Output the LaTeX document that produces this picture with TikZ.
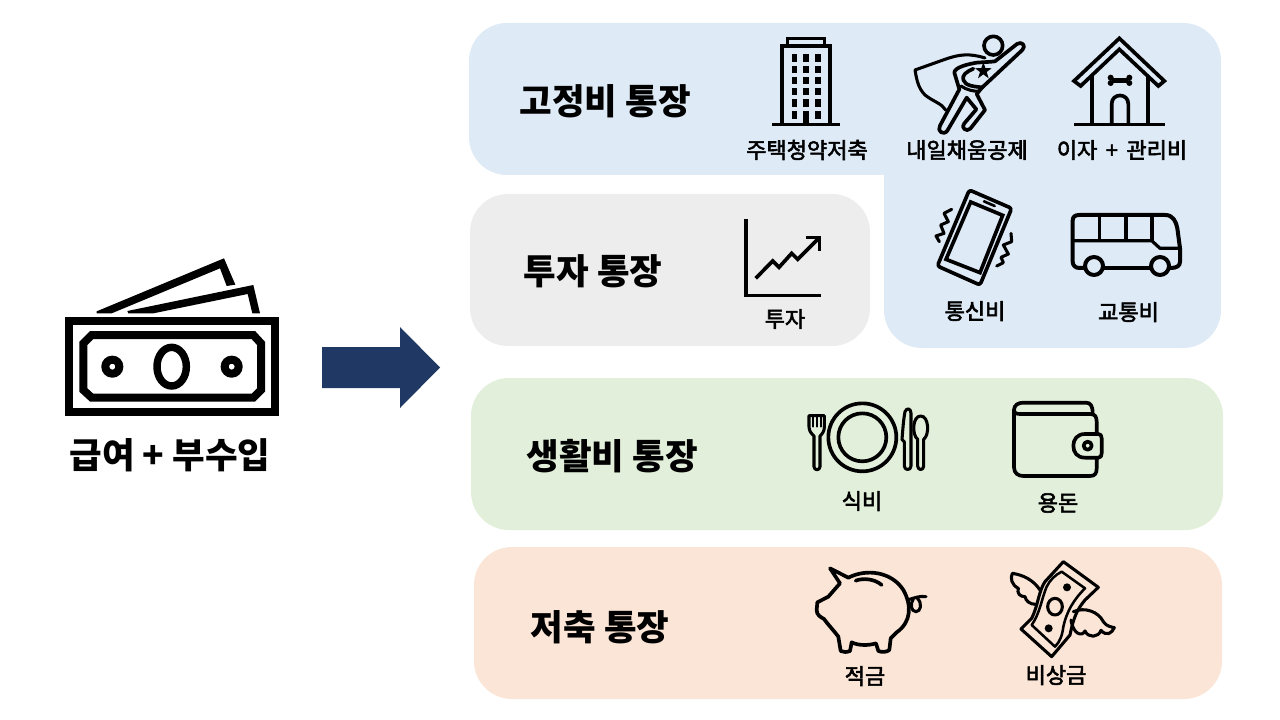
\documentclass[tikz,border=0pt]{standalone}
\usepackage{fontspec}
\setmainfont{Noto Sans CJK KR}
\newfontfamily\lblfont[FakeBold=2.6]{Noto Sans CJK KR}
\tikzset{
  x=0.75pt,y=-0.75pt,
  panel/.style={rounded corners=28.5pt,inner sep=0pt,outer sep=0pt,draw=none},
  hdg/.style={font=\fontsize{26.6}{30}\selectfont\bfseries,inner sep=0pt,text=black},
  lbl/.style={font=\fontsize{16.5}{20}\lblfont,inner sep=0pt,text=black},
  icon/.style={draw=black,line width=2.75pt,line join=round,line cap=round,fill=none},
  thinicon/.style={draw=black,line width=2.3pt,line join=round,line cap=round,fill=none},
  z1/.style={shift={(#1)},scale=1/3}
}
\definecolor{pblue}{HTML}{DEEAF6}
\definecolor{pgray}{HTML}{EDEDED}
\definecolor{pgreen}{HTML}{E2EFDA}
\definecolor{porange}{HTML}{FBE5D6}
\definecolor{navy}{HTML}{1F3864}
\begin{document}
\begin{tikzpicture}
\useasboundingbox (0,0) rectangle (1280,720);
% panels
\fill[pblue] (884,175) -- (507,175) .. controls (486,175) and (469,158) .. (469,137) -- (469,61) .. controls (469,40) and (486,23) .. (507,23) -- (1183,23) .. controls (1204,23) and (1221,40) .. (1221,61) -- (1221,310) .. controls (1221,331) and (1204,348) .. (1183,348) -- (922,348) .. controls (901,348) and (884,331) .. (884,310) -- cycle;
\node[panel,fill=pgray,minimum width=300pt,minimum height=114pt] (pg) at (670,270) {};
\node[panel,fill=pgreen,minimum width=564pt,minimum height=114pt] (pr) at (847,454) {};
\node[panel,fill=porange,minimum width=561pt,minimum height=114pt] (po) at (848,623) {};
% arrow
\fill[navy] (322,347) -- (400,347) -- (400,327) -- (440,367.5) -- (400,408) -- (400,388) -- (322,388) -- cycle;
% headings
\node[hdg] (h1) at (605,101) {고정비 통장};
\node[hdg] (h2) at (593,271) {투자 통장};
\node[hdg] (h3) at (612,456) {생활비 통장};
\node[hdg] (h4) at (600,627) {저축 통장};
\node[hdg] (h5) at (170,455) {급여 + 부수입};
% captions
\node[lbl] (c1) at (807,150) {주택청약저축};
\node[lbl] (c2) at (967,150) {내일채움공제};
\node[lbl] (c3) at (1122,150) {이자\hspace{0.16em} + \hspace{0.16em}관리비};
\node[lbl] (c4) at (975,311) {통신비};
\node[lbl] (c5) at (1128.5,312) {교통비};
\node[lbl] (c6) at (785,319) {투자};
\node[lbl] (c7) at (862,501) {식비};
\node[lbl] (c8) at (1058,503) {용돈};
\node[lbl] (c9) at (865,676) {적금};
\node[lbl] (c10) at (1056,675) {비상금};
% money
\begin{scope}[z1={50,250}]
\draw[line width=6pt,line join=miter] (56,212) rectangle (676,486);
\draw[line width=6pt,line join=miter] (125,255) -- (610,255) -- (633,280) -- (633,420) -- (610,443) -- (125,443) -- (100,420) -- (100,280) -- cycle;
\draw[line width=5.6pt] (365,350) ellipse (44 and 58);
\draw[line width=6pt] (187,350) circle (21);
\draw[line width=6pt] (545,350) circle (21);
\fill (140,184) -- (522,25) -- (556,104) -- (530,108) -- (510,55) -- (185,190) -- (140,190) -- cycle;
\fill (232,183) -- (610,105) -- (630,190) -- (607,190) -- (593,132) -- (310,190) -- (235,190) -- cycle;
\end{scope}
% building
\begin{scope}[z1={730,20}]
\draw[icon,line cap=butt,line join=miter] (156,312) -- (156,78) -- (300,78) -- (300,312);
\draw[icon,line cap=butt,line join=miter,line width=2.2pt] (172,76) -- (172,56) -- (284,56) -- (284,76);
\draw[icon,line cap=butt] (127,314) -- (329,314);
\foreach \yy/\hh in {102/23,137/21,170/22,205/21,238/22,272/24}{
  \fill (185,\yy) rectangle ++(16,\hh);
  \fill (255,\yy) rectangle ++(17,\hh);
}
\foreach \yy/\hh in {102/23,137/21,170/22,205/21,238/22,272/40}{
  \fill (220,\yy) rectangle ++(17,\hh);
}
\end{scope}
% hero
\begin{scope}[z1={905,30}]
\draw[icon] (265,47) circle (28);
\draw[icon] (270,94) -- (336,42) .. controls (350,32) and (365,48) .. (352,60) -- (232,172) -- (215,192) -- (240,240) -- (196,296) .. controls (185,308) and (165,292) .. (178,280) -- (214,238) -- (185,203) -- (127,302) .. controls (115,318) and (95,303) .. (105,287) -- (163,178) -- (148,128) .. controls (148,112) and (190,102) .. (215,98) .. controls (240,96) and (255,96) .. (270,94);
\draw[icon] (205,116) .. controls (185,125) and (170,135) .. (175,150) .. controls (180,168) and (210,170) .. (232,172);
\draw[thinicon] (168,168) .. controls (185,180) and (205,184) .. (222,184);
\draw[thinicon] (240,84) .. controls (195,70) and (165,72) .. (120,88) -- (30,120) .. controls (35,150) and (40,175) .. (60,195) .. controls (85,215) and (110,220) .. (122,240);
\fill (235,96) -- (241,114) -- (260,115) -- (245,126) -- (251,145) -- (235,133) -- (219,145) -- (225,126) -- (210,115) -- (229,114) -- cycle;
\end{scope}
% dog house
\begin{scope}[z1={730,20}]
\draw[icon,line join=miter] (1032,183) -- (1168,55) -- (1303,183) -- (1285,198) -- (1168,88) -- (1052,198) -- cycle;
\draw[icon,line cap=butt] (1086,168) -- (1086,312);
\draw[icon,line cap=butt] (1253,168) -- (1253,312);
\draw[icon,line cap=butt] (1033,314) -- (1304,314);
\draw[icon,line cap=butt] (1145,312) -- (1145,252) .. controls (1145,218) and (1195,218) .. (1195,252) -- (1195,312);
\draw[icon,line cap=butt,line width=3.4pt] (1145,181) -- (1195,181);
\foreach \px/\py in {1142/173,1142/189,1198/173,1198/189}{\fill (\px,\py) circle (9);}
\end{scope}
% phone
\begin{scope}[z1={900,180}]
\draw[icon,rounded corners=2pt] (208,30) -- (335,85) -- (240,315) -- (112,258) -- cycle;
\draw[icon,line join=miter] (212,66) -- (308,106) -- (240,278) -- (138,238) -- cycle;
\draw[icon,line width=2pt] (252,64) -- (284,78);
\draw[thinicon] (155,88) -- (132,100) -- (145,125) -- (122,135) -- (132,160) -- (108,168) -- (118,185);
\draw[thinicon] (333,160) -- (335,185) -- (310,195) -- (325,222) -- (303,232) -- (310,248) -- (290,258);
\end{scope}
% bus
\begin{scope}[z1={900,180}]
\draw[icon,line width=3pt] (552,264) -- (538,264) .. controls (525,264) and (518,255) .. (518,245) -- (518,122) .. controls (518,110) and (525,105) .. (538,105) -- (795,105) .. controls (820,105) and (828,125) .. (832,145) -- (840,205) -- (840,245) .. controls (840,258) and (830,264) .. (812,264);
\draw[icon,line width=3pt,line cap=butt] (612,264) -- (750,264);
\draw[icon,line width=3pt] (582,258) circle (27);
\draw[icon,line width=3pt] (780,258) circle (27);
\draw[icon,line width=2.4pt] (518,182) -- (755,182) -- (780,205) -- (840,205);
\draw[icon,line cap=butt] (598,105) -- (598,182);
\draw[icon,line cap=butt] (678,105) -- (678,182);
\draw[icon,line cap=butt] (755,105) -- (755,182);
\end{scope}
% chart
\begin{scope}[z1={730,210}]
\draw[icon,line cap=butt,line join=miter] (47,27) -- (47,257) -- (272,257);
\draw[icon,line cap=butt,line join=miter] (77,205) -- (128,153) -- (147,172) -- (185,130) -- (203,148) -- (268,83);
\draw[icon,line cap=butt,line join=miter] (228,83) -- (268,83) -- (268,122);
\end{scope}
% plate and cutlery
\begin{scope}[z1={805,400}]
\draw[icon] (172,112) circle (102);
\draw[icon] (172,112) circle (72);
\draw[thinicon] (12,47) -- (58,47) -- (58,82) .. controls (58,95) and (50,103) .. (45,108) -- (45,200) .. controls (45,212) and (27,212) .. (27,200) -- (27,108) .. controls (18,100) and (12,92) .. (12,80) -- cycle;
\draw[thinicon,line width=1.5pt] (25,50) -- (25,80);
\draw[thinicon,line width=1.5pt] (36,50) -- (36,80);
\draw[thinicon,line width=1.5pt] (47,50) -- (47,80);
\draw[thinicon] (318,125) -- (318,40) .. controls (318,25) and (305,22) .. (300,35) .. controls (295,60) and (293,95) .. (291,118) -- (298,126) -- (298,198) .. controls (298,212) and (318,212) .. (318,198) -- cycle;
\draw[thinicon] (338,118) .. controls (320,105) and (322,48) .. (347,48) .. controls (372,48) and (374,105) .. (356,118) -- (356,198) .. controls (356,212) and (338,212) .. (338,198) -- cycle;
\end{scope}
% wallet
\begin{scope}[z1={790,390}]
\draw[icon] (672,60) .. controls (672,45) and (685,38) .. (700,38) -- (888,38) .. controls (902,38) and (908,48) .. (908,70);
\draw[icon] (672,60) .. controls (672,70) and (680,72) .. (692,72) -- (900,72) .. controls (915,72) and (920,80) .. (920,95) -- (920,130);
\draw[icon] (672,60) -- (672,232) .. controls (672,250) and (685,258) .. (700,258) -- (900,258) .. controls (915,258) and (920,250) .. (920,235) -- (920,205);
\draw[icon] (925,132) -- (885,132) .. controls (862,132) and (850,148) .. (850,167) .. controls (850,188) and (862,203) .. (885,203) -- (925,203) .. controls (932,203) and (935,198) .. (935,190) -- (935,145) .. controls (935,137) and (932,132) .. (925,132) -- cycle;
\draw[icon] (893,167) circle (12);
\end{scope}
% pig
\begin{scope}[z1={800,555}]
\draw[icon] (90,40) -- (145,68) .. controls (200,40) and (275,50) .. (310,105) .. controls (335,150) and (335,200) .. (290,232) -- (272,250) -- (268,285) .. controls (260,292) and (245,292) .. (235,288) -- (228,265) .. controls (205,272) and (175,272) .. (155,262) -- (150,288) .. controls (140,292) and (130,292) .. (122,288) -- (115,245) .. controls (100,225) and (85,210) .. (72,192) .. controls (60,185) and (50,180) .. (50,165) -- (52,142) -- (85,125) -- (120,85) -- cycle;
\draw[icon] (167,77) .. controls (190,68) and (225,72) .. (245,90);
\draw[thinicon] (322,135) .. controls (345,128) and (360,122) .. (378,125);
\draw[thinicon] (352,130) .. controls (368,145) and (362,170) .. (348,170) .. controls (332,170) and (330,145) .. (340,132);
\end{scope}
% flying money
\begin{scope}[z1={1005,555}]
\draw[thinicon] (175,20) -- (280,97) -- (240,135) .. controls (215,165) and (205,190) .. (195,240) -- (140,305) -- (48,222) -- (80,190) .. controls (100,150) and (100,110) .. (120,80) -- cycle;
\draw[thinicon,line width=1.9pt] (170,50) -- (240,100) .. controls (205,135) and (185,170) .. (175,215) .. controls (172,240) and (165,260) .. (150,275) -- (80,210) .. controls (105,175) and (110,130) .. (125,95) .. controls (135,75) and (150,60) .. (170,50) -- cycle;
\fill (186,97) circle (12);
\fill (131,220) circle (12);
\draw[thinicon] (150,155) ellipse (22 and 25);
\draw[thinicon] (105,105) .. controls (85,75) and (55,60) .. (22,55) .. controls (15,70) and (20,90) .. (40,100) .. controls (35,115) and (45,125) .. (60,125) .. controls (62,138) and (75,148) .. (92,148);
\draw[thinicon] (205,170) .. controls (240,155) and (280,170) .. (295,200) .. controls (305,215) and (318,215) .. (328,218) .. controls (320,235) and (305,245) .. (288,226) .. controls (280,248) and (250,250) .. (240,228) .. controls (232,245) and (205,240) .. (198,195);
\end{scope}
\end{tikzpicture}
\end{document}
